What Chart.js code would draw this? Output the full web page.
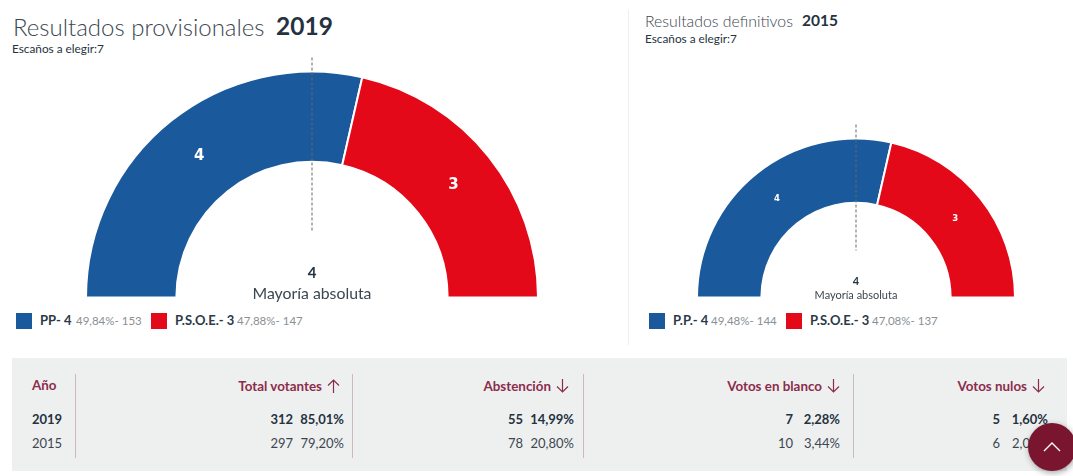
<!DOCTYPE html>
<html lang="es">
<head>
<meta charset="utf-8">
<title>Resultados</title>
<script src="https://cdn.jsdelivr.net/npm/chart.js@4/dist/chart.umd.min.js"></script>
<style>
  html, body { margin:0; padding:0; background:#fff; }
  body { width:1073px; height:476px; position:relative; overflow:hidden; font-family:Lato, sans-serif; color:#253240; }
  .abs { position:absolute; white-space:nowrap; line-height:1; }
  canvas { position:absolute; }
  .title-light { font-weight:300; color:#3b4650; }
  .title-bold { font-weight:700; color:#253240; }
  .swatch { position:absolute; width:16px; height:16px; }
  .leg-name { font-weight:700; font-size:13px; color:#2c3a48; }
  .leg-info { font-size:11.5px; color:#8a8f94; }
  #panel { position:absolute; left:12px; top:358px; width:1055px; height:113px; background:#eef0f0; }
  .sep { position:absolute; top:374px; height:84px; width:1px; background:#cdb9be; }
  .head { font-weight:700; font-size:13.4px; color:#8c2c4b; }
  .head svg { vertical-align:-2px; margin-left:5px; }
  .cell { font-size:13px; color:#3d4750; }
  .cell.bold { font-weight:700; color:#253240; }
  #divider { position:absolute; left:628px; top:10px; width:1px; height:335px; background:#eeeeee; }
  #toTop { position:absolute; left:1028px; top:423px; width:48px; height:48px; border-radius:50%; background:#7a1530; box-shadow:1px 2px 6px rgba(0,0,0,.35); }
</style>
</head>
<body>
<div id="divider"></div>

<div class="abs title-light" style="left:13px;top:15px;font-size:24px;">Resultados provisionales</div>
<div class="abs title-bold" style="left:276px;top:14px;font-size:24.5px;">2019</div>
<div class="abs" style="left:12px;top:43px;font-size:11.8px;">Escaños a elegir:7</div>

<div class="abs title-light" style="left:645px;top:13px;font-size:15.8px;">Resultados definitivos</div>
<div class="abs title-bold" style="left:802px;top:13px;font-size:15.5px;">2015</div>
<div class="abs" style="left:645px;top:33px;font-size:11.8px;">Escaños a elegir:7</div>

<canvas id="chart2019"></canvas>
<canvas id="chart2015"></canvas>

<div class="abs" style="left:212px;width:200px;text-align:center;top:265px;font-size:15px;font-weight:700;">4</div>
<div class="abs" style="left:212px;width:200px;text-align:center;top:285px;font-size:15.8px;color:#3b4650;">Mayoría absoluta</div>
<div class="abs" style="left:756px;width:200px;text-align:center;top:275px;font-size:11px;font-weight:700;">4</div>
<div class="abs" style="left:756px;width:200px;text-align:center;top:289px;font-size:11px;color:#3b4650;">Mayoría absoluta</div>

<div id="legends"></div>

<div id="panel"></div>
<div id="table"></div>
<div id="toTop">
  <svg width="48" height="48" viewBox="0 0 48 48"><path d="M16 28 L24 20 L32 28" fill="none" stroke="#fff" stroke-width="1.4"/></svg>
</div>

<script>
/* ---------- Data ---------- */
const parties2019 = ['PP', 'P.S.O.E.'];
const seats2019 = [4, 3];
const info2019 = ['49,84%- 153', '47,88%- 147'];

const parties2015 = ['P.P.', 'P.S.O.E.'];
const seats2015 = [4, 3];
const info2015 = ['49,48%- 144', '47,08%- 137'];

const partyColors = ['#1a5a9c', '#e30918'];

const tableYears = ['2019', '2015'];
const tableHeads = ['Total votantes', 'Abstención', 'Votos en blanco', 'Votos nulos'];
const tableArrows = ['up', 'down', 'down', 'down'];
const counts2019 = ['312', '55', '7', '5'];
const pcts2019 = ['85,01%', '14,99%', '2,28%', '1,60%'];
const counts2015 = ['297', '78', '10', '6'];
const pcts2015 = ['79,20%', '20,80%', '3,44%', '2,02%'];

/* ---------- Plugin: seat numbers + dashed majority line ---------- */
const hemicyclePlugin = {
  id: 'hemicycle',
  afterDraw(chart, args, opts) {
    const ctx = chart.ctx;
    const arcs = chart.getDatasetMeta(0).data;
    ctx.save();
    ctx.font = 'bold ' + opts.labelSize + 'px "DejaVu Sans", sans-serif';
    ctx.fillStyle = '#fff';
    ctx.textAlign = 'center';
    ctx.textBaseline = 'middle';
    arcs.forEach((arc, i) => {
      const p = arc.tooltipPosition();
      ctx.fillText(chart.data.datasets[0].data[i], p.x, p.y);
    });
    const cx = arcs[0].x, cy = arcs[0].y;
    ctx.strokeStyle = '#666';
    ctx.lineWidth = 1;
    ctx.setLineDash([3, 2]);
    ctx.beginPath();
    ctx.moveTo(cx, cy - opts.lineTop);
    ctx.lineTo(cx, cy - opts.lineBottom);
    ctx.stroke();
    ctx.restore();
  }
};

function drawHemicycle(id, seats, labels, box, cutout, labelSize, lineTop, lineBottom) {
  const el = document.getElementById(id);
  el.width = box.width;
  el.height = box.height;
  el.style.left = box.left + 'px';
  el.style.top = box.top + 'px';
  return new Chart(el, {
    type: 'doughnut',
    data: {
      labels: labels,
      datasets: [{
        data: seats,
        backgroundColor: partyColors,
        borderColor: '#fff',
        borderWidth: 2
      }]
    },
    options: {
      responsive: false,
      animation: false,
      rotation: -90,
      circumference: 180,
      radius: box.radius,
      cutout: cutout,
      layout: { padding: { top: box.padTop } },
      plugins: {
        legend: { display: false },
        tooltip: { enabled: false },
        hemicycle: { labelSize, lineTop, lineBottom }
      }
    },
    plugins: [hemicyclePlugin]
  });
}

drawHemicycle('chart2019', seats2019, parties2019, { left: 87, top: 57, width: 450, height: 240, padTop: 15, radius: 226 }, '60%', 15, 240, 67);
drawHemicycle('chart2015', seats2015, parties2015, { left: 698, top: 124, width: 316, height: 173, padTop: 15, radius: 159 }, '59.5%', 8.5, 173, 47);

/* ---------- Legends ---------- */
function legendHtml(x, y, name, seat, info, color, nameX, infoX) {
  return `<div class="swatch" style="left:${x}px;top:${y}px;background:${color}"></div>
    <div class="abs leg-name" style="left:${nameX}px;top:${y + 1}px">${name}- ${seat}</div>
    <div class="abs leg-info" style="left:${infoX}px;top:${y + 2}px">${info}</div>`;
}
document.getElementById('legends').innerHTML =
  legendHtml(16, 313, parties2019[0], seats2019[0], info2019[0], partyColors[0], 40, 76) +
  legendHtml(151, 313, parties2019[1], seats2019[1], info2019[1], partyColors[1], 175, 237) +
  legendHtml(649, 313, parties2015[0], seats2015[0], info2015[0], partyColors[0], 673, 711) +
  legendHtml(786, 313, parties2015[1], seats2015[1], info2015[1], partyColors[1], 810, 872);

/* ---------- Table ---------- */
const colRight = [344, 574, 840, 1048];
const headRight = [340, 569, 840, 1045];
const countRight = [293, 523, 793, 1000];
const sepX = [75, 352, 583, 853];
const arrowPath = { up: 'M6.5 14V1 M1 6.5L6.5 1L12 6.5', down: 'M6.5 0V13 M1 7.5L6.5 13L12 7.5' };

let tableHtml = sepX.map(x => `<div class="sep" style="left:${x}px"></div>`).join('');
tableHtml += `<div class="abs head" style="left:32px;top:379px">Año</div>`;
tableHtml += `<div class="abs cell bold" style="left:32px;top:413px">${tableYears[0]}</div>`;
tableHtml += `<div class="abs cell" style="left:32px;top:437px">${tableYears[1]}</div>`;
tableHeads.forEach((h, i) => {
  const right = 1073 - headRight[i];
  const cRight = 1073 - countRight[i];
  const pRight = 1073 - colRight[i];
  tableHtml += `<div class="abs head" style="right:${right}px;top:379px">${h}<svg width="13" height="14" viewBox="0 0 13 14"><path d="${arrowPath[tableArrows[i]]}" fill="none" stroke="#8c2c4b" stroke-width="1.2"/></svg></div>`;
  tableHtml += `<div class="abs cell bold" style="right:${cRight}px;top:413px">${counts2019[i]}</div>`;
  tableHtml += `<div class="abs cell bold" style="right:${pRight}px;top:413px">${pcts2019[i]}</div>`;
  tableHtml += `<div class="abs cell" style="right:${cRight}px;top:437px">${counts2015[i]}</div>`;
  tableHtml += `<div class="abs cell" style="right:${pRight}px;top:437px">${pcts2015[i]}</div>`;
});
document.getElementById('table').innerHTML = tableHtml;
</script>
</body>
</html>
